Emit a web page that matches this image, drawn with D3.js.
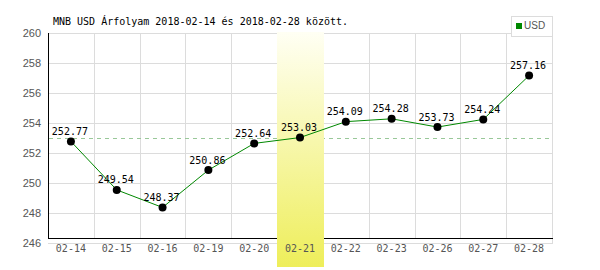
<!DOCTYPE html>
<meta charset="utf-8">
<script src="https://d3js.org/d3.v7.min.js"></script>
<style>
  body { margin: 0; background: #fff; }
</style>
<div id="chart"></div>
<script>
  // data
  var dates = ["02-14", "02-15", "02-16", "02-19", "02-20", "02-21", "02-22", "02-23", "02-26", "02-27", "02-28"];
  var rates = [252.77, 249.54, 248.37, 250.86, 252.64, 253.03, 254.09, 254.28, 253.73, 254.24, 257.16];
  var yTicks = [246, 248, 250, 252, 254, 256, 258, 260];
  var highlightDate = "02-21";
  var title = "MNB USD Árfolyam 2018-02-14 és 2018-02-28 között.";
  var seriesName = "USD";

  var width = 600, height = 270;
  // plot box (note: "top" is reserved on window, so use other names)
  var plotL = 48, plotR = 552, plotT = 33, plotB = 243, axisY = 238;

  var svg = d3.select("#chart").append("svg")
      .attr("width", width)
      .attr("height", height);

  var x = d3.scaleBand().domain(dates).range([plotL, plotR]);
  var y = d3.scaleLinear().domain([246, 260]).range([plotB, plotT]);

  function px(v) { return Math.round(v) + 0.5; }

  // gradient for the highlighted day
  var grad = svg.append("defs").append("linearGradient")
      .attr("id", "hl").attr("x1", 0).attr("y1", 0).attr("x2", 0).attr("y2", 1);
  grad.append("stop").attr("offset", "0%").attr("stop-color", "#fffff4");
  grad.append("stop").attr("offset", "100%").attr("stop-color", "#eeee5a");

  // horizontal grid
  svg.append("g").selectAll("line")
    .data(yTicks)
    .enter().append("line")
      .attr("x1", plotL).attr("x2", plotR + 1)
      .attr("y1", function(d) { return px(y(d)); })
      .attr("y2", function(d) { return px(y(d)); })
      .attr("stroke", "#dcdcdc");

  // vertical grid between days
  svg.append("g").selectAll("line")
    .data(dates.slice(1))
    .enter().append("line")
      .attr("x1", function(d) { return px(x(d)); })
      .attr("x2", function(d) { return px(x(d)); })
      .attr("y1", plotT).attr("y2", axisY)
      .attr("stroke", "#dcdcdc");
  svg.append("line")
    .attr("x1", px(plotR)).attr("x2", px(plotR))
    .attr("y1", plotT).attr("y2", px(plotB))
    .attr("stroke", "#dcdcdc");

  // axes
  svg.append("line")
    .attr("x1", px(plotL)).attr("x2", px(plotL))
    .attr("y1", plotT).attr("y2", axisY + 1)
    .attr("stroke", "#000");
  svg.append("line")
    .attr("x1", plotL).attr("x2", plotR + 1)
    .attr("y1", axisY + 0.5).attr("y2", axisY + 0.5)
    .attr("stroke", "#000");

  // y labels
  svg.append("g").selectAll("text")
    .data(yTicks)
    .enter().append("text")
      .attr("x", 41)
      .attr("y", function(d) { return y(d) + 4; })
      .attr("text-anchor", "end")
      .attr("font-family", "Liberation Sans, Arial, sans-serif")
      .attr("font-size", 11)
      .attr("fill", "#555")
      .text(function(d) { return d; });

  // dashed line at highlighted day's value
  var hlVal = rates[dates.indexOf(highlightDate)];
  svg.append("line")
    .attr("x1", plotL + 1).attr("x2", plotR - 2)
    .attr("y1", px(y(hlVal))).attr("y2", px(y(hlVal)))
    .attr("stroke", "#99c899")
    .attr("stroke-dasharray", "4,4");

  // highlight band
  svg.append("rect")
    .attr("x", Math.round(x(highlightDate)))
    .attr("y", 32)
    .attr("width", Math.round(x.bandwidth()) + 1)
    .attr("height", 235)
    .attr("fill", "url(#hl)");

  // x labels
  svg.append("g").selectAll("text")
    .data(dates)
    .enter().append("text")
      .attr("x", function(d) { return x(d) + x.bandwidth() / 2; })
      .attr("y", 252)
      .attr("text-anchor", "middle")
      .attr("font-family", "DejaVu Sans Mono, monospace")
      .attr("font-size", 10)
      .attr("fill", "#555")
      .text(function(d) { return d; });

  // line
  var line = d3.line()
    .x(function(d, i) { return x(dates[i]) + x.bandwidth() / 2; })
    .y(function(d) { return y(d); });
  svg.append("path")
    .datum(rates)
    .attr("d", line)
    .attr("fill", "none")
    .attr("stroke", "#008800")
    .attr("stroke-width", 1);

  // points
  svg.append("g").selectAll("circle")
    .data(rates)
    .enter().append("circle")
      .attr("cx", function(d, i) { return x(dates[i]) + x.bandwidth() / 2; })
      .attr("cy", function(d) { return y(d); })
      .attr("r", 4)
      .attr("fill", "#000");

  // value labels
  svg.append("g").selectAll("text")
    .data(rates)
    .enter().append("text")
      .attr("x", function(d, i) { return x(dates[i]) + x.bandwidth() / 2 - 1; })
      .attr("y", function(d) { return y(d) - 6.5; })
      .attr("text-anchor", "middle")
      .attr("font-family", "DejaVu Sans Mono, monospace")
      .attr("font-size", 10)
      .attr("fill", "#000")
      .text(function(d) { return d.toFixed(2); });

  // title
  svg.append("text")
    .attr("x", 53)
    .attr("y", 25)
    .attr("font-family", "DejaVu Sans Mono, monospace")
    .attr("font-size", 10)
    .attr("fill", "#000")
    .text(title);

  // legend
  var lg = svg.append("g");
  lg.append("rect")
    .attr("x", 511.5).attr("y", 16.5)
    .attr("width", 41).attr("height", 20)
    .attr("fill", "#fff")
    .attr("stroke", "#dcdcdc");
  lg.append("rect")
    .attr("x", 516).attr("y", 23)
    .attr("width", 6).attr("height", 6)
    .attr("fill", "#008800");
  lg.append("text")
    .attr("x", 524).attr("y", 29)
    .attr("font-family", "Liberation Sans, Arial, sans-serif")
    .attr("font-size", 10)
    .attr("fill", "#555")
    .text(seriesName);
</script>
